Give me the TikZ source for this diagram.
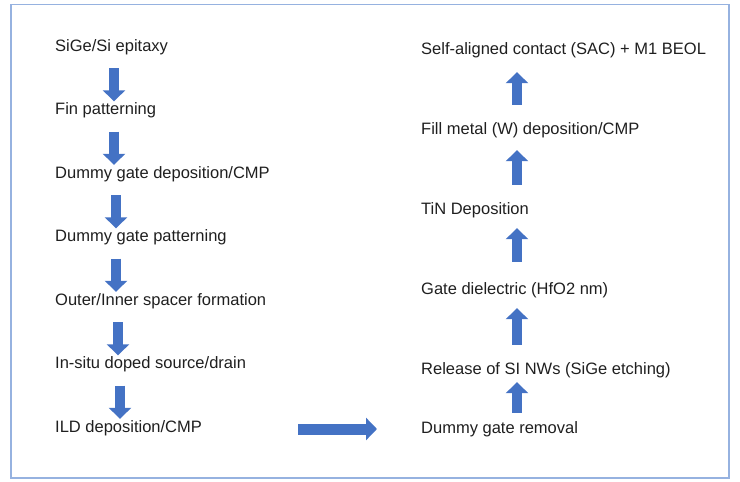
\documentclass[tikz,border=0pt]{standalone}
\usepackage{fontspec}
\setmainfont{Liberation Sans}
\usetikzlibrary{arrows.meta, positioning}

\definecolor{arrowblue}{RGB}{68,114,196}
\definecolor{framblue}{RGB}{150,178,224}

\begin{document}
\begin{tikzpicture}[
        x=1pt, y=-1pt,
        stepbox/.style={anchor=base west, inner sep=0pt, text height=12pt, text depth=4pt, font=\fontsize{16.5}{20}\selectfont, text=black!88},
        blockarrow/.style={draw=arrowblue, line width=10.5pt, -{Triangle[width=22pt, length=11pt]}},
        downarrow/.style={blockarrow, shorten <=13pt, shorten >=1pt},
        uparrow/.style={blockarrow, shorten <=17pt, shorten >=12pt}
    ]
        \useasboundingbox (0,0) rectangle (740,482);
        \draw[framblue, line width=1.6pt] (11,4.5) rectangle (729,478);

        % front end (left column)
        \node[stepbox] (epi) at (55,51) {SiGe/Si epitaxy};
        \node[stepbox] (fin) at (55,114.5) {Fin patterning};
        \node[stepbox] (dgdep) at (55,178) {Dummy gate deposition/CMP};
        \node[stepbox] (dgpat) at (55,241.5) {Dummy gate patterning};
        \node[stepbox] (spacer) at (55,305) {Outer/Inner spacer formation};
        \node[stepbox] (sd) at (55,368.5) {In-situ doped source/drain};
        \node[stepbox] (ild) at (55,432) {ILD deposition/CMP};

        % replacement gate (right column)
        \node[stepbox] (sac) at (421,54) {Self-aligned contact (SAC) + M1 BEOL};
        \node[stepbox] (fill) at (421,134) {Fill metal (W) deposition/CMP};
        \node[stepbox] (tin) at (421,214) {TiN Deposition};
        \node[stepbox] (hfo) at (421,294) {Gate dielectric (HfO2 nm)};
        \node[stepbox] (release) at (421,374) {Release of SI NWs (SiGe etching)};
        \node[stepbox] (dgrem) at (421,433) {Dummy gate removal};

        \draw[downarrow] ([xshift=59pt]epi.south west) -- ([xshift=59pt]fin.north west);
        \draw[downarrow] ([xshift=59pt]fin.south west) -- ([xshift=59pt]dgdep.north west);
        \draw[downarrow] ([xshift=61pt]dgdep.south west) -- ([xshift=61pt]dgpat.north west);
        \draw[downarrow] ([xshift=61pt]dgpat.south west) -- ([xshift=61pt]spacer.north west);
        \draw[downarrow] ([xshift=63pt]spacer.south west) -- ([xshift=63pt]sd.north west);
        \draw[downarrow] ([xshift=65pt]sd.south west) -- ([xshift=65pt]ild.north west);

        \draw[blockarrow, line width=11pt, shorten <=96pt, shorten >=44pt] (ild.east |- dgrem.west) -- (dgrem.west);

        \draw[uparrow, shorten <=8pt, shorten >=4pt] ([xshift=96pt]dgrem.north west) -- ([xshift=96pt]release.south west);
        \draw[uparrow, shorten >=10pt] ([xshift=96pt]release.north west) -- ([xshift=96pt]hfo.south west);
        \draw[uparrow, shorten <=20pt, shorten >=10pt] ([xshift=96pt]hfo.north west) -- ([xshift=96pt]tin.south west);
        \draw[uparrow] ([xshift=96pt]tin.north west) -- ([xshift=96pt]fill.south west);
        \draw[uparrow, shorten >=14pt] ([xshift=96pt]fill.north west) -- ([xshift=96pt]sac.south west);

    \end{tikzpicture}
\end{document}
